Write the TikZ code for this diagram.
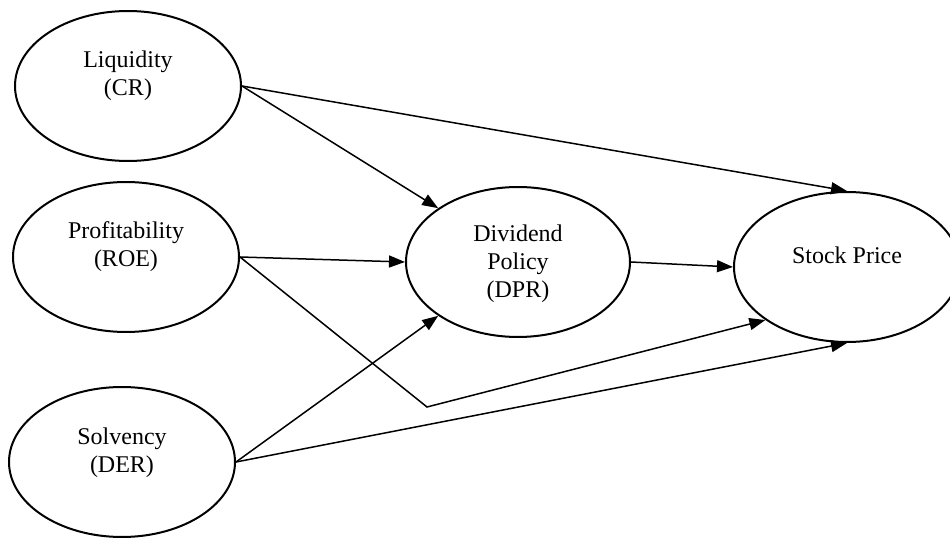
\documentclass[tikz,border=0pt]{standalone}
\usepackage{fontspec}
\setmainfont{Liberation Serif}
\usetikzlibrary{arrows.meta,shapes.geometric}

\tikzset{
  var/.style={shape=ellipse, draw=black, line width=1pt, minimum width=113pt, minimum height=75pt},
  txt/.style={align=center, font=\fontsize{12}{14}\selectfont},
  path/.style={draw=black, line width=0.75pt, -{Triangle[length=8pt,width=6pt]}}
}

\begin{document}
\begin{tikzpicture}[x=0.5pt, y=-0.5pt]
\useasboundingbox (0,0) rectangle (950,540);
\node[var, label={[txt, yshift=5pt]center:Liquidity\\(CR)}] (CR) at (128, 86) {};
\node[var, label={[txt, yshift=5pt]center:Profitability\\(ROE)}] (ROE) at (126, 257) {};
\node[var, label={[txt, yshift=4.5pt]center:Solvency\\(DER)}] (DER) at (122, 462) {};
\node[var, minimum width=112pt, label={[txt, yshift=-1pt]center:Dividend\\Policy\\(DPR)}] (DPR) at (518, 262) {};
\node[var, label={[txt, yshift=6pt]center:Stock Price}] (SP) at (847, 267) {};
\coordinate (bend) at (427, 407);
\path [path] (CR.east) -- (SP.north);
\path [path] (CR.east) -- (DPR.146.5);
\path [path] (ROE.east) -- (DPR.west);
\path [path] (ROE.east) -- (bend) -- (SP.213.5);
\path [path] (DER.east) -- (DPR.214.3);
\path [path] (DER.east) -- (SP.south);
\path [path] (DPR.east) -- (SP.west);
\end{tikzpicture}
\end{document}
